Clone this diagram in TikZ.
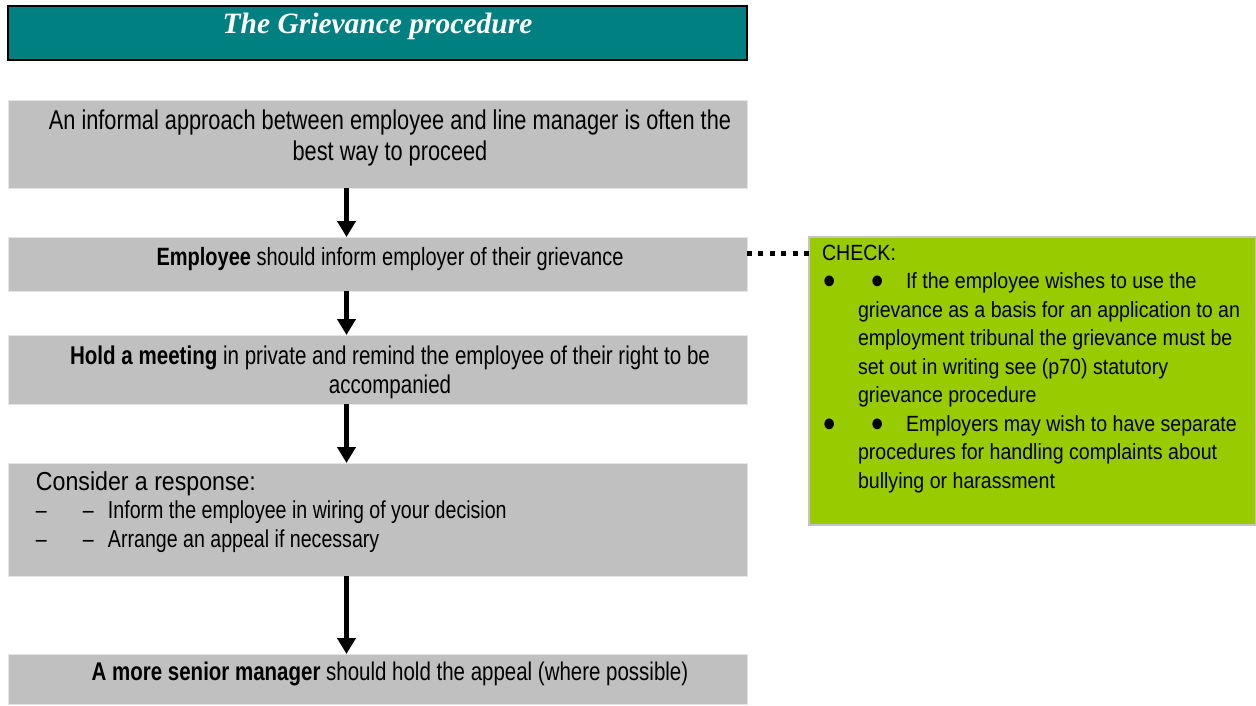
\documentclass[tikz,border=0pt]{standalone}
\usepackage{graphicx}
\usepackage{fontspec}
\setmainfont{Liberation Sans}
\newfontfamily\narrowfont{Liberation Sans}[FakeStretch=0.80]
\newfontfamily\checkfont{Liberation Sans}[FakeStretch=0.89]
\newfontfamily\titlefont{Liberation Serif}
\usetikzlibrary{arrows.meta, positioning}

\definecolor{titleteal}{RGB}{0,128,128}
\definecolor{stepgray}{RGB}{192,192,192}
\definecolor{stepedge}{RGB}{228,228,228}
\definecolor{checkgreen}{RGB}{153,204,0}
\definecolor{checkedge}{RGB}{196,196,196}

% top aligned text of a step: [first baseline]{box height}{lines}
\newcommand{\stepbody}[3][28pt]{\parbox[t][#2][t]{739pt}{\fontsize{25pt}{30pt}\narrowfont
  \centering\leftskip=25pt plus 1fil\rule{0pt}{#1}#3}}
% a bullet of the check list
\newcommand{\chkbullet}{\raisebox{-6pt}{\scalebox{1.8}{\textbullet}}}

\tikzset{
  titlebox/.style={fill=titleteal, draw=black, line width=2pt, text=white,
    inner sep=0pt, outer sep=0pt, anchor=north west},
  stepbox/.style={fill=stepgray, draw=stepedge, line width=1pt,
    inner sep=0pt, outer sep=0pt},
  checkbox/.style={fill=checkgreen, draw=checkedge, line width=2pt,
    inner sep=0pt, outer sep=0pt},
  flow/.style={->, line width=5pt},
  dotline/.style={line width=5pt, dash pattern=on 5pt off 6.4pt}
}

\begin{document}
\begin{tikzpicture}[>={Triangle[width=18pt,length=16pt]}]
\useasboundingbox (0,0) rectangle (1256pt,-705pt);

% define the boxes of the procedure
  \node[titlebox] (title) at (8pt,-6pt)
{\parbox[t][54pt][t]{739pt}{\centering\fontsize{29.5pt}{32pt}\titlefont\bfseries\itshape\rule{0pt}{27pt}The Grievance procedure}};
  \node[stepbox] (step1) [below=40pt of title]
{\stepbody[29pt]{88pt}{\fontsize{27.2pt}{31pt}\selectfont An informal approach between employee and line manager is often the\\ best way to proceed}};
  \node[stepbox] (step2) [below=49pt of step1]
{\stepbody{54pt}{\textbf{Employee} should inform employer of their grievance}};
  \node[stepbox] (step3) [below=44pt of step2]
{\stepbody[29pt]{69pt}{\fontsize{25.7pt}{29pt}\selectfont\textbf{Hold a meeting} in private and remind the employee of their right to be\\ accompanied}};
  \node[stepbox] (step4) [below=59pt of step3]
{\parbox[t][113pt][t]{739pt}{\fontsize{26pt}{28.5pt}\checkfont\raggedright\leftskip=28pt
  \rule{0pt}{27pt}Consider a response:\\
  \fontsize{24.5pt}{28.5pt}\narrowfont\makebox[47pt][l]{–}\makebox[25pt][l]{–}Inform the employee in wiring of your decision\\
  \makebox[47pt][l]{–}\makebox[25pt][l]{–}Arrange an appeal if necessary}};
  \node[stepbox] (step5) [below=78pt of step4]
{\stepbody[26pt]{50pt}{\fontsize{25.6pt}{30pt}\selectfont\textbf{A more senior manager} should hold the appeal (where possible)}};

% the check list beside the second step
  \node[checkbox] (check) [right=62pt of step2.north east, anchor=north west]
{\parbox[t][288pt][t]{447pt}{\fontsize{22pt}{28.5pt}\checkfont\raggedright\leftskip=13pt
  \rule{0pt}{23pt}CHECK:\\
  \hspace*{1pt}\makebox[48pt][l]{\chkbullet}\makebox[35pt][l]{\chkbullet}If the employee wishes to use the\\
  \hspace*{36pt}grievance as a basis for an application to an\\
  \hspace*{36pt}employment tribunal the grievance must be\\
  \hspace*{36pt}set out in writing see (p70) statutory\\
  \hspace*{36pt}grievance procedure\\
  \hspace*{1pt}\makebox[48pt][l]{\chkbullet}\makebox[35pt][l]{\chkbullet}Employers may wish to have separate\\
  \hspace*{36pt}procedures for handling complaints about\\
  \hspace*{36pt}bullying or harassment}};

% define the links
  \path[flow] ([xshift=-31pt]step1.south) edge ([xshift=-31pt]step2.north)
              ([xshift=-31pt]step2.south) edge ([xshift=-31pt]step3.north)
              ([xshift=-31pt]step3.south) edge ([xshift=-31pt]step4.north)
              ([xshift=-31pt]step4.south) edge ([xshift=-31pt]step5.north);
  \path[dotline] ([yshift=-16pt]step2.north east) edge ([yshift=-16pt]check.north west);

\end{tikzpicture}
\end{document}
